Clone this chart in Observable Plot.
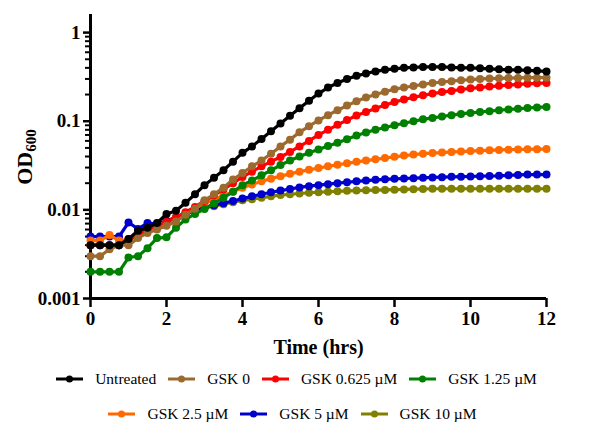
<!DOCTYPE html>
<html>
<head>
<meta charset="utf-8">
<script src="https://cdn.jsdelivr.net/npm/d3@7"></script>
<script src="https://cdn.jsdelivr.net/npm/@observablehq/plot@0.6"></script>
<style>
  html, body { margin: 0; padding: 0; background: #fff; }
  #wrap { width: 593px; font-family: "Liberation Serif", "Times New Roman", serif; }
  .row { display: flex; justify-content: center; align-items: center; height: 34px; font-size: 15.5px; color: #000; }
  .item { display: flex; align-items: center; margin: 0 6px; }
  .item svg { margin-right: 12px; }
</style>
</head>
<body>
<div id="wrap"><div id="chart"></div><div id="legend"></div></div>
<script>
const times = [0,0.25,0.5,0.75,1,1.25,1.5,1.75,2,2.25,2.5,2.75,3,3.25,3.5,3.75,4,4.25,4.5,4.75,5,5.25,5.5,5.75,6,6.25,6.5,6.75,7,7.25,7.5,7.75,8,8.25,8.5,8.75,9,9.25,9.5,9.75,10,10.25,10.5,10.75,11,11.25,11.5,11.75,12];

const untreated = [0.0040,0.0040,0.0040,0.0040,0.0047,0.0058,0.0063,0.0071,0.0090,0.0098,0.0120,0.0150,0.0190,0.0230,0.0280,0.0350,0.0440,0.0520,0.0630,0.0770,0.0940,0.115,0.140,0.170,0.205,0.240,0.270,0.300,0.325,0.345,0.365,0.380,0.390,0.400,0.405,0.410,0.410,0.410,0.405,0.400,0.400,0.395,0.390,0.385,0.380,0.380,0.375,0.370,0.365];
const gsk0 = [0.0030,0.0030,0.0036,0.0040,0.0040,0.0048,0.0055,0.0060,0.0066,0.0074,0.0088,0.0103,0.0128,0.0150,0.0178,0.0220,0.0260,0.0310,0.0360,0.0430,0.0520,0.0620,0.0750,0.0880,0.102,0.117,0.133,0.150,0.168,0.185,0.200,0.215,0.230,0.240,0.250,0.260,0.270,0.277,0.283,0.290,0.295,0.300,0.303,0.305,0.307,0.308,0.310,0.310,0.310];
const gsk0625 = [0.0040,0.0040,0.0040,0.0040,0.0045,0.0053,0.0060,0.0066,0.0073,0.0082,0.0094,0.0108,0.0126,0.0146,0.0170,0.0200,0.0235,0.0270,0.0310,0.0350,0.0395,0.0450,0.0520,0.0600,0.0700,0.0800,0.0910,0.103,0.116,0.127,0.139,0.152,0.165,0.176,0.186,0.196,0.205,0.213,0.220,0.228,0.235,0.240,0.246,0.251,0.256,0.260,0.264,0.268,0.270];
const gsk125 = [0.0020,0.0020,0.0020,0.0020,0.0029,0.0030,0.0037,0.0048,0.0049,0.0063,0.0078,0.0090,0.0102,0.0118,0.0137,0.0160,0.0190,0.0215,0.0245,0.0280,0.0320,0.0360,0.0400,0.0440,0.0480,0.0525,0.0570,0.0625,0.0690,0.0745,0.0800,0.0850,0.0900,0.0950,0.100,0.105,0.109,0.113,0.117,0.121,0.124,0.127,0.130,0.133,0.136,0.138,0.141,0.143,0.145];
const gsk25 = [0.0045,0.0045,0.0052,0.0045,0.0046,0.0052,0.0060,0.0066,0.0072,0.0082,0.0092,0.0105,0.0118,0.0130,0.0145,0.0160,0.0178,0.0193,0.0210,0.0225,0.0240,0.0255,0.0270,0.0283,0.0297,0.0310,0.0323,0.0335,0.0348,0.0360,0.0372,0.0385,0.0397,0.0410,0.0420,0.0430,0.0437,0.0443,0.0450,0.0455,0.0460,0.0465,0.0470,0.0474,0.0478,0.0480,0.0482,0.0484,0.0485];
const gsk5 = [0.0050,0.0050,0.0050,0.0050,0.0072,0.0061,0.0071,0.0069,0.0075,0.0082,0.0090,0.0098,0.0106,0.0113,0.0119,0.0126,0.0134,0.0142,0.0150,0.0158,0.0165,0.0172,0.0179,0.0185,0.0190,0.0195,0.0200,0.0205,0.0210,0.0214,0.0218,0.0221,0.0224,0.0226,0.0228,0.0230,0.0232,0.0234,0.0236,0.0237,0.0238,0.0240,0.0241,0.0242,0.0245,0.0248,0.0250,0.0250,0.0250];
const gsk10 = [0.0040,0.0040,0.0040,0.0040,0.0047,0.0055,0.0060,0.0066,0.0075,0.0083,0.0090,0.0098,0.0105,0.0110,0.0116,0.0122,0.0128,0.0132,0.0137,0.0142,0.0147,0.0150,0.0153,0.0156,0.0158,0.0160,0.0162,0.0164,0.0165,0.0166,0.0167,0.0168,0.0169,0.0170,0.0171,0.0172,0.0173,0.0173,0.0173,0.0173,0.0173,0.0173,0.0173,0.0173,0.0173,0.0173,0.0173,0.0173,0.0173];

const seriesNames = ["Untreated","GSK 0","GSK 0.625 µM","GSK 1.25 µM","GSK 2.5 µM","GSK 5 µM","GSK 10 µM"];
const seriesValues = [untreated, gsk0, gsk0625, gsk125, gsk25, gsk5, gsk10];
const seriesColors = ["#000000","#9C6A2E","#FF0000","#008000","#FF6A00","#0000CC","#808000"];

const xTicks = [0,2,4,6,8,10,12];
const yTicks = [0.001,0.01,0.1,1];
const yTickLabels = ["0.001","0.01","0.1","1"];
const yMinor = [0.002,0.003,0.004,0.005,0.006,0.007,0.008,0.009,0.02,0.03,0.04,0.05,0.06,0.07,0.08,0.09,0.2,0.3,0.4,0.5,0.6,0.7,0.8,0.9];

const serif = "'Liberation Serif', 'Times New Roman', serif";

const seriesMarks = [];
for (let s = seriesNames.length - 1; s >= 0; s--) {
  const rows = times.map((t, i) => ({t, v: seriesValues[s][i]}));
  seriesMarks.push(Plot.line(rows, {x: "t", y: "v", stroke: seriesColors[s], strokeWidth: 3.2}));
  seriesMarks.push(Plot.dot(rows, {x: "t", y: "v", r: 4, fill: seriesColors[s], stroke: "none"}));
}

const chart = Plot.plot({
  width: 593,
  height: 362,
  marginLeft: 90,
  marginRight: 47,
  marginTop: 14,
  marginBottom: 64,
  x: {domain: [0, 12]},
  y: {type: "log", domain: [0.001, 1.6]},
  style: {fontFamily: serif, fontSize: "19px", fontWeight: "bold", color: "#000", background: "#fff", overflow: "visible"},
  marks: [
    Plot.axisX({ticks: xTicks, tickSize: 9, tickPadding: 4, strokeWidth: 2.5, tickFormat: d => String(d), label: null, fontWeight: "bold", fontSize: 19}),
    Plot.axisY({ticks: yTicks, tickSize: 7, tickPadding: 3, strokeWidth: 2.5, tickFormat: d => yTickLabels[yTicks.indexOf(d)], label: null, fontWeight: "bold", fontSize: 19}),
    Plot.axisY({ticks: yMinor, tickSize: 5, strokeWidth: 2, text: null, label: null}),
    Plot.ruleX([0], {y1: 0.001, y2: 1.6, strokeWidth: 3}),
    Plot.ruleY([0.001], {x1: 0, x2: 12, strokeWidth: 3}),
    ...seriesMarks,
    Plot.text(["Time (hrs)"], {frameAnchor: "bottom", dy: 49, lineAnchor: "middle", fontSize: 20, fontWeight: "bold"})
  ]
});

const svg = d3.select(chart);
const lab = svg.append("text")
  .attr("transform", "translate(32,157) rotate(-90)")
  .attr("text-anchor", "middle")
  .attr("font-family", serif)
  .attr("font-weight", "bold")
  .attr("font-size", 22)
  .attr("fill", "#000");
lab.append("tspan").text("OD");
lab.append("tspan").attr("font-size", 15).attr("dy", 4).text("600");

document.getElementById("chart").appendChild(chart);

const legendRows = [[0,1,2,3],[4,5,6]];
const legend = d3.select("#legend");
legendRows.forEach((idxs, r) => {
  const row = legend.append("div").attr("class", "row")
    .style("padding-right", r === 1 ? "8px" : "0px")
    .style("height", r === 1 ? "36px" : "34px");
  idxs.forEach(s => {
    const item = row.append("div").attr("class", "item");
    const sv = item.append("svg").attr("width", 27).attr("height", 12);
    sv.append("line").attr("x1", 0).attr("x2", 27).attr("y1", 6).attr("y2", 6).attr("stroke", seriesColors[s]).attr("stroke-width", 3);
    sv.append("circle").attr("cx", 13.5).attr("cy", 6).attr("r", 3.5).attr("fill", seriesColors[s]);
    item.append("span").text(seriesNames[s]);
  });
});
</script>
</body>
</html>
